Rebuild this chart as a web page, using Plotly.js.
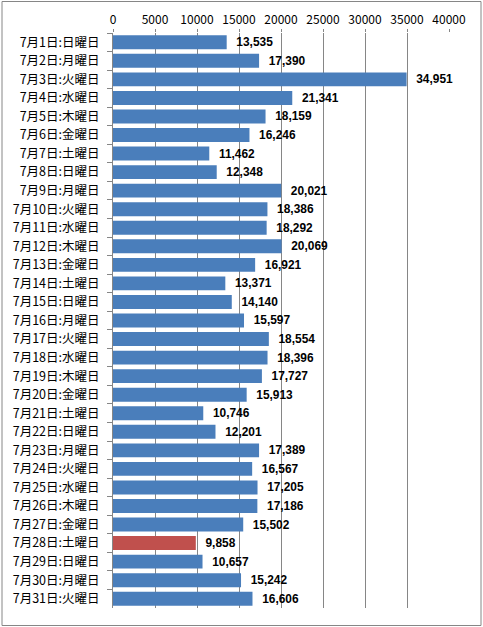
<!DOCTYPE html>
<html>
<head>
<meta charset="utf-8">
<script src="https://cdn.plot.ly/plotly-3.0.1.min.js"></script>
<style>
  body { margin: 0; background: #fff; }
  #graph { width: 483px; height: 627px; }
</style>
</head>
<body>
<div id="graph"></div>
<script>
// July daily counts
var days = [];
var weekdays = ['日', '月', '火', '水', '木', '金', '土'];
for (var d = 1; d <= 31; d++) {
    days.push('7月' + d + '日:' + weekdays[(d - 1) % 7] + '曜日');
}
var counts = [13535, 17390, 34951, 21341, 18159, 16246, 11462, 12348, 20021, 18386,
              18292, 20069, 16921, 13371, 14140, 15597, 18554, 18396, 17727, 15913,
              10746, 12201, 17389, 16567, 17205, 17186, 15502, 9858, 10657, 15242, 16606];
var highlight = '7月28日:土曜日';
var xTicks = [0, 5000, 10000, 15000, 20000, 25000, 30000, 35000, 40000];

var barColors = days.map(function(c){ return c === highlight ? '#c0504d' : '#4a7ebb'; });
var labels = counts.map(function(v){ return '  ' + v.toLocaleString('en-US'); });

var trace = {
    type: 'bar',
    orientation: 'h',
    x: counts,
    y: days,
    marker: { color: barColors },
    text: labels,
    textposition: 'outside',
    cliponaxis: false,
    textfont: { family: 'Liberation Sans', size: 12, color: '#000', weight: 'bold' },
    hoverinfo: 'none'
};

var layout = {
    width: 483,
    height: 627,
    margin: { l: 113, r: 34, t: 33, b: 19 },
    paper_bgcolor: '#fff',
    plot_bgcolor: '#fff',
    showlegend: false,
    bargap: 0.25,
    font: { family: 'Noto Sans CJK JP', size: 12, color: '#000' },
    xaxis: {
        side: 'top',
        range: [0, 40000],
        tickvals: xTicks,
        ticktext: xTicks.map(String),
        showgrid: true,
        gridcolor: '#868686',
        gridwidth: 1,
        zeroline: false,
        showline: false,
        ticks: 'outside',
        ticklen: 3,
        tickcolor: '#868686',
        tickfont: { family: 'Noto Sans CJK JP', size: 12 },
        fixedrange: true
    },
    yaxis: {
        type: 'category',
        autorange: 'reversed',
        showline: true,
        linecolor: '#868686',
        ticks: 'outside',
        tickson: 'boundaries',
        ticklen: 5,
        tickcolor: '#868686',
        showgrid: false,
        tickfont: { family: 'Noto Sans CJK JP', size: 12.5 },
        ticklabelstandoff: 10,
        fixedrange: true
    },
    shapes: [{
        type: 'rect',
        xref: 'paper', yref: 'paper',
        x0: (2 - 113) / 336, x1: (481 - 113) / 336,
        y0: (608 - 625.5) / 575, y1: (608 - 1.5) / 575,
        line: { color: '#868686', width: 1 },
        fillcolor: 'rgba(0,0,0,0)',
        layer: 'below'
    }]
};

Plotly.newPlot('graph', [trace], layout, { displayModeBar: false, staticPlot: true });
</script>
</body>
</html>
